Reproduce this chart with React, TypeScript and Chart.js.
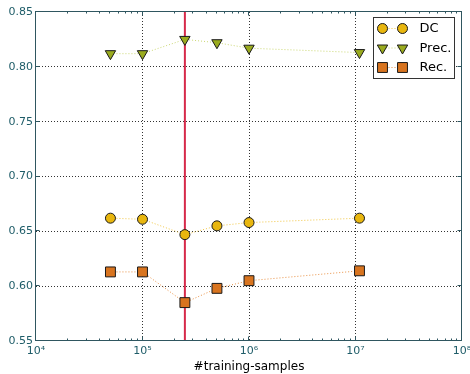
import React, { useEffect, useRef } from 'react';
import { Chart, registerables } from 'chart.js';

Chart.register(...registerables);

const sampleSizes = [5e4, 1e5, 2.5e5, 5e5, 1e6, 1.09e7];
const dcValues = [0.662, 0.661, 0.647, 0.655, 0.658, 0.662];
const precValues = [0.812, 0.812, 0.825, 0.822, 0.817, 0.813];
const recValues = [0.613, 0.613, 0.585, 0.598, 0.605, 0.614];
const seriesLabels = ['DC', 'Prec.', 'Rec.'];
const markerSampleSize = 2.5e5;
const xTickValues = [1e4, 1e5, 1e6, 1e7, 1e8];
const yTickValues = [0.55, 0.6, 0.65, 0.7, 0.75, 0.8, 0.85];
const xMin = 1e4;
const xMax = 1e8;
const yMin = 0.55;
const yMax = 0.85;
const xAxisTitle = '#training-samples';

const FRAME = '#2f5660';
const TICK_LABEL = '#1e5c68';
const SUP = '⁰¹²³⁴⁵⁶⁷⁸⁹';

function fmtPow(v: number): string {
  const e = Math.round(Math.log10(v));
  return '10' + String(e).split('').map((c) => SUP[Number(c)]).join('');
}

const framePlugin = {
  id: 'frameTicks',
  afterDatasetsDraw(chart: any) {
    const { ctx, chartArea } = chart;
    const xs = chart.scales.x;
    const ys = chart.scales.y;
    const l = Math.round(chartArea.left) - 0.5;
    const r = Math.round(chartArea.right) - 0.5;
    const t = Math.round(chartArea.top) - 0.5;
    const b = Math.round(chartArea.bottom) - 0.5;
    ctx.save();
    ctx.strokeStyle = FRAME;
    ctx.lineWidth = 1;
    ctx.setLineDash([]);
    ctx.beginPath();
    for (let d = 0; d < xTickValues.length - 1; d++) {
      for (let m = 1; m <= 9; m++) {
        const v = xTickValues[d] * m;
        const px = Math.round(xs.getPixelForValue(v)) - 0.5;
        const len = m === 1 ? 4 : 2;
        ctx.moveTo(px, b);
        ctx.lineTo(px, b - len);
        ctx.moveTo(px, t);
        ctx.lineTo(px, t + len);
      }
    }
    for (const v of yTickValues) {
      const py = Math.round(ys.getPixelForValue(v)) - 0.5;
      ctx.moveTo(l, py);
      ctx.lineTo(l + 4, py);
      ctx.moveTo(r, py);
      ctx.lineTo(r - 4, py);
    }
    ctx.stroke();
    ctx.strokeRect(l, t, r - l, b - t);
    ctx.restore();
  },
};

function drawMarker(ctx: CanvasRenderingContext2D, o: any, x: number, y: number) {
  const r = o.radius;
  ctx.beginPath();
  if (o.pointStyle === 'circle') {
    ctx.arc(x, y, r, 0, Math.PI * 2);
  } else if (o.pointStyle === 'rect') {
    const s = Math.SQRT1_2 * r;
    ctx.rect(x - s, y - s, 2 * s, 2 * s);
  } else if (o.pointStyle === 'triangle') {
    let rad = (o.rotation * Math.PI) / 180;
    ctx.moveTo(x + Math.sin(rad) * r, y - Math.cos(rad) * r);
    rad += (2 * Math.PI) / 3;
    ctx.lineTo(x + Math.sin(rad) * r, y - Math.cos(rad) * r);
    rad += (2 * Math.PI) / 3;
    ctx.lineTo(x + Math.sin(rad) * r, y - Math.cos(rad) * r);
    ctx.closePath();
  }
  ctx.fill();
  ctx.stroke();
}

const legendPlugin = {
  id: 'mplLegend',
  afterDraw(chart: any) {
    const { ctx, chartArea } = chart;
    const boxR = Math.round(chartArea.right) - 7.5;
    const boxL = boxR - 81;
    const boxT = Math.round(chartArea.top) + 5.5;
    const boxB = boxT + 61;
    ctx.save();
    ctx.fillStyle = '#ffffff';
    ctx.strokeStyle = '#333333';
    ctx.lineWidth = 1;
    ctx.fillRect(boxL, boxT, boxR - boxL, boxB - boxT);
    ctx.strokeRect(boxL, boxT, boxR - boxL, boxB - boxT);
    for (let i = 0; i < seriesLabels.length; i++) {
      const ds = chart.data.datasets[i];
      const y = boxT + 11 + i * 19.5;
      const x1 = boxL + 9;
      const x2 = boxL + 29;
      ctx.save();
      ctx.strokeStyle = ds.borderColor;
      ctx.lineWidth = 1;
      ctx.setLineDash([1, 2]);
      ctx.beginPath();
      ctx.moveTo(x1, y);
      ctx.lineTo(x2, y);
      ctx.stroke();
      ctx.restore();
      const opts = {
        pointStyle: ds.pointStyle,
        rotation: ds.rotation || 0,
        radius: ds.pointRadius,
      };
      ctx.fillStyle = ds.pointBackgroundColor;
      ctx.strokeStyle = ds.pointBorderColor;
      ctx.lineWidth = ds.pointBorderWidth;
      drawMarker(ctx, opts, x1, y);
      drawMarker(ctx, opts, x2, y);
      ctx.fillStyle = '#000000';
      ctx.font = '13px "DejaVu Sans"';
      ctx.textBaseline = 'middle';
      ctx.textAlign = 'left';
      ctx.fillText(seriesLabels[i], boxL + 46, y + 0.5);
    }
    ctx.restore();
  },
};

function edgeAware(min: number, max: number) {
  return (c: any) => {
    const v = c.tick ? c.tick.value : NaN;
    if (Math.abs(v - min) < 1e-9 * Math.max(1, Math.abs(min)) || Math.abs(v - max) < 1e-9 * Math.max(1, Math.abs(max))) {
      return 'rgba(0,0,0,0)';
    }
    return 'rgba(0,0,0,0.8)';
  };
}

export default function App() {
  const ref = useRef<HTMLCanvasElement | null>(null);

  useEffect(() => {
    if (!ref.current) return;
    Chart.defaults.font.family = '"DejaVu Sans", sans-serif';
    const mk = (vals: number[]) => sampleSizes.map((x, i) => ({ x, y: vals[i] }));
    const chart = new Chart(ref.current, {
      type: 'scatter',
      data: {
        datasets: [
          {
            label: seriesLabels[0],
            data: mk(dcValues),
            showLine: true,
            borderColor: 'rgba(240,196,60,0.95)',
            borderWidth: 1,
            borderDash: [1, 2],
            pointStyle: 'circle',
            pointRadius: 5,
            pointBackgroundColor: '#e8b60e',
            pointBorderColor: '#1a1a1a',
            pointBorderWidth: 1,
            order: 1,
          },
          {
            label: seriesLabels[1],
            data: mk(precValues),
            showLine: true,
            borderColor: 'rgba(200,214,110,0.95)',
            borderWidth: 1,
            borderDash: [1, 2],
            pointStyle: 'triangle',
            rotation: 180,
            pointRadius: 6,
            pointBackgroundColor: '#9aab1e',
            pointBorderColor: '#1a1a1a',
            pointBorderWidth: 1,
            order: 1,
          },
          {
            label: seriesLabels[2],
            data: mk(recValues),
            showLine: true,
            borderColor: 'rgba(232,140,60,0.95)',
            borderWidth: 1,
            borderDash: [1, 2],
            pointStyle: 'rect',
            pointRadius: 7,
            pointBackgroundColor: '#d8741f',
            pointBorderColor: '#1a1a1a',
            pointBorderWidth: 1,
            order: 1,
          },
          {
            label: 'marker',
            data: [
              { x: markerSampleSize, y: yMin },
              { x: markerSampleSize, y: yMax },
            ],
            showLine: true,
            borderColor: '#d62a4a',
            borderWidth: 2,
            pointRadius: 0,
            order: 10,
          },
        ],
      } as any,
      options: {
        responsive: false,
        animation: false,
        layout: { padding: { top: 12, right: 8, left: 0, bottom: 0 } },
        plugins: {
          legend: { display: false },
          tooltip: { enabled: false },
        },
        scales: {
          x: {
            type: 'logarithmic',
            min: xMin,
            max: xMax,
            afterBuildTicks: (s: any) => {
              s.ticks = xTickValues.map((v) => ({ value: v }));
            },
            afterFit: (s: any) => {
              s.height = 33;
              s.paddingLeft = 0;
              s.paddingRight = 0;
            },
            ticks: {
              autoSkip: false,
              maxRotation: 0,
              padding: 4,
              color: TICK_LABEL,
              font: { size: 11 },
              callback: (v: any) => fmtPow(Number(v)),
            },
            grid: {
              color: edgeAware(xMin, xMax),
              lineWidth: 1,
              drawTicks: false,
            },
            border: { display: false, dash: [1, 2] },
            title: {
              display: true,
              text: xAxisTitle,
              color: '#000000',
              font: { size: 12 },
              padding: { top: 0, bottom: 0 },
            },
          },
          y: {
            type: 'linear',
            min: yMin,
            max: yMax,
            afterBuildTicks: (s: any) => {
              s.ticks = yTickValues.map((v) => ({ value: v }));
            },
            afterFit: (s: any) => {
              s.width = 36;
              s.paddingTop = 0;
              s.paddingBottom = 0;
            },
            ticks: {
              padding: 3,
              color: TICK_LABEL,
              font: { size: 11 },
              callback: (v: any) => Number(v).toFixed(2),
            },
            grid: {
              color: edgeAware(yMin, yMax),
              lineWidth: 1,
              drawTicks: false,
            },
            border: { display: false, dash: [1, 2] },
          },
        },
      } as any,
      plugins: [framePlugin, legendPlugin],
    });
    return () => chart.destroy();
  }, []);

  return (
    <div style={{ position: 'absolute', left: 0, top: 0, width: 470, height: 374, background: '#fff' }}>
      <canvas ref={ref} width={470} height={374} style={{ display: 'block' }} />
    </div>
  );
}
